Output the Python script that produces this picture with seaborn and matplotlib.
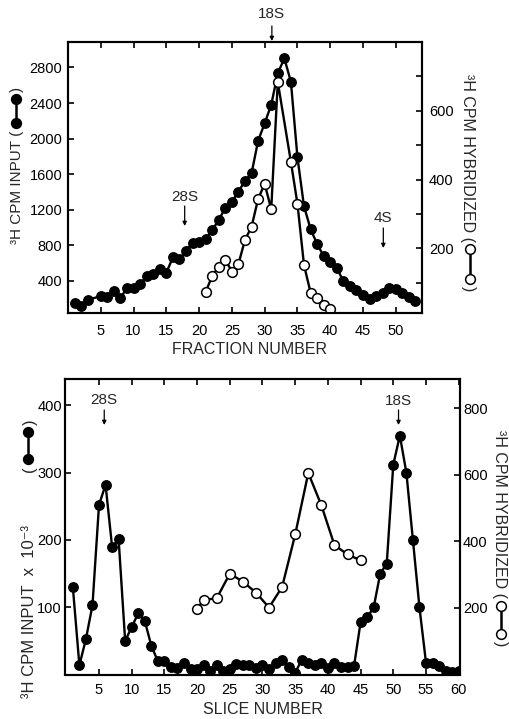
import matplotlib
matplotlib.use("Agg")
import matplotlib.pyplot as plt
import seaborn as sns
from matplotlib.lines import Line2D

# ---------------- data ----------------
top_input_fraction = [1, 2, 3, 5, 6, 7, 8, 9, 10, 11, 12, 13, 14, 15, 16, 17, 18, 19, 20,
                      21, 22, 23, 24, 25, 26, 27, 28, 29, 30, 31, 32, 33, 34, 35, 36, 37,
                      38, 39, 40, 41, 42, 43, 44, 45, 46, 47, 48, 49, 50, 51, 52, 53]
top_input_cpm = [156, 119, 187, 231, 223, 291, 212, 318, 318, 363, 456, 479, 538, 493, 666,
                 644, 740, 830, 838, 868, 973, 1085, 1224, 1291, 1403, 1527, 1610, 1976, 2172,
                 2380, 2734, 2902, 2640, 1790, 1240, 985, 816, 681, 617, 545, 400, 340, 295,
                 243, 194, 235, 265, 320, 310, 260, 220, 180]

top_hyb_fraction = [21, 22, 23, 24, 25, 26, 27, 28, 29, 30, 31, 32, 34, 35, 36, 37, 38, 39, 40]
top_hyb_cpm = [74, 120, 147, 167, 133, 155, 225, 263, 344, 388, 314, 684, 452, 330, 152,
               72, 55, 36, 23]

bottom_input_slice = list(range(1, 61))
bottom_input_cpm = [130, 14, 53, 103, 252, 282, 190, 201, 50, 71, 91, 80, 43, 20, 20, 12, 10,
                    17, 8, 8, 15, 6, 14, 5, 8, 16, 14, 15, 10, 14, 8, 18, 22, 12, 3, 22, 18,
                    15, 18, 10, 18, 11, 11, 13, 78, 85, 100, 150, 165, 312, 355, 300, 200,
                    100, 18, 17, 13, 5, 4, 5]

bottom_hyb_slice = [20, 21, 23, 25, 27, 29, 31, 33, 35, 37, 39, 41, 43, 45]
bottom_hyb_cpm = [195, 223, 228, 302, 278, 245, 200, 262, 420, 605, 508, 388, 360, 342]

top_left_ticks = [400, 800, 1200, 1600, 2000, 2400, 2800]
top_right_ticks = [100, 200, 300, 400, 500, 600, 700]
top_right_labels = ["", "200", "", "400", "", "600", ""]
top_x_ticks = [5, 10, 15, 20, 25, 30, 35, 40, 45, 50]
bottom_left_ticks = [100, 200, 300, 400]
bottom_right_ticks = [200, 400, 600, 800]
bottom_x_ticks = [5, 10, 15, 20, 25, 30, 35, 40, 45, 50, 55, 60]

# ---------------- style ----------------
sns.set_theme(style="white")
plt.rcParams["font.family"] = ["Liberation Sans", "DejaVu Sans"]
plt.rcParams["axes.linewidth"] = 1.5

W, H = 510, 719
fig = plt.figure(figsize=(W / 100, H / 100), dpi=100)
fig.patch.set_facecolor("white")


def rect(l, t, r, b):
    return [l / W, 1 - b / H, (r - l) / W, (b - t) / H]


ax1 = fig.add_axes(rect(68, 41.7, 422, 313.3))
ax1r = ax1.twinx()
ax2 = fig.add_axes(rect(65, 379, 460, 674.5))
ax2r = ax2.twinx()

filled = dict(color="black", lw=1.7, marker="o", markersize=6.8, markerfacecolor="black",
              markeredgecolor="black", markeredgewidth=1.0, sort=False)
opened = dict(color="black", lw=1.7, marker="o", markersize=7.0, markerfacecolor="white",
              markeredgecolor="black", markeredgewidth=1.1, sort=False)

sns.lineplot(x=top_input_fraction, y=top_input_cpm, ax=ax1, **filled)
sns.lineplot(x=top_hyb_fraction, y=top_hyb_cpm, ax=ax1r, **opened)
sns.lineplot(x=bottom_input_slice, y=bottom_input_cpm, ax=ax2, **filled)
sns.lineplot(x=bottom_hyb_slice, y=bottom_hyb_cpm, ax=ax2r, **opened)

# ---------------- axes ----------------
ax1.set_xlim(0, 54)
ax1.set_ylim(37, 3089)
ax1r.set_ylim(11.6, 801)
ax2.set_xlim(-0.2, 60.2)
ax2.set_ylim(0.3, 439)
ax2r.set_ylim(-1.5, 888)

ax1.set_xticks(top_x_ticks)
ax1.set_yticks(top_left_ticks)
ax1r.set_yticks(top_right_ticks)
ax1r.set_yticklabels(top_right_labels)
ax2.set_xticks(bottom_x_ticks)
ax2.set_yticks(bottom_left_ticks)
ax2r.set_yticks(bottom_right_ticks)

for a in (ax1, ax1r, ax2, ax2r):
    a.set_xlabel("")
    a.set_ylabel("")
    for s in a.spines.values():
        s.set_linewidth(1.5)
        s.set_color("black")

tk = dict(direction="in", length=4, width=1.2, colors="black", labelsize=10.5)
ax1.tick_params(axis="x", top=True, bottom=True, pad=8.0, **tk)
ax1.tick_params(axis="y", left=True, right=False, pad=4.0, **tk)
ax1r.tick_params(axis="y", right=True, left=False, pad=5.0, **tk)
ax2.tick_params(axis="x", top=True, bottom=True, pad=6.0, **tk)
ax2.tick_params(axis="y", left=True, right=False, pad=2.2, **tk)
ax2r.tick_params(axis="y", right=True, left=False, pad=2.2, **tk)

# ---------------- axis titles ----------------
fig.text(250 / W, 1 - 349 / H, "FRACTION NUMBER", ha="center", va="center", fontsize=11.5)
fig.text(263 / W, 1 - 710 / H, "SLICE NUMBER", ha="center", va="center", fontsize=11.5)


def ftext(x, y, s, **kw):
    return fig.text(x / W, 1 - y / H, s, **kw)


def symbol(x, y1, y2, face):
    fig.add_artist(Line2D([x / W, x / W], [1 - y1 / H, 1 - y2 / H], transform=fig.transFigure,
                          color="black", lw=1.8, marker="o", markersize=7.0,
                          markerfacecolor=face, markeredgecolor="black", markeredgewidth=1.1))


# top-left label
ftext(17, 131, "³H CPM INPUT (", rotation=90, rotation_mode="anchor", ha="right",
      va="center", fontsize=11)
symbol(16, 123, 99, "black")
ftext(17, 92, ")", rotation=90, rotation_mode="anchor", ha="left", va="center", fontsize=11)

# top-right label
ftext(468, 74, "³H CPM HYBRIDIZED (", rotation=270, rotation_mode="anchor", ha="left",
      va="center", fontsize=11.5)
symbol(470, 249, 279, "white")
ftext(468, 286, ")", rotation=270, rotation_mode="anchor", ha="left", va="center",
      fontsize=11.5)

# bottom-left label
ftext(30, 698, "³H CPM INPUT  x  10⁻³", rotation=90, rotation_mode="anchor", ha="left",
      va="center", fontsize=12)
ftext(30, 466, "(", rotation=90, rotation_mode="anchor", ha="right", va="center",
      fontsize=12)
symbol(28, 459, 432, "black")
ftext(30, 425, ")", rotation=90, rotation_mode="anchor", ha="left", va="center",
      fontsize=12)

# bottom-right label
ftext(500, 430, "³H CPM HYBRIDIZED (", rotation=270, rotation_mode="anchor", ha="left",
      va="center", fontsize=11.5)
symbol(501, 606, 634, "white")
ftext(500, 641, ")", rotation=270, rotation_mode="anchor", ha="left", va="center",
      fontsize=11.5)


# ---------------- peak markers ----------------
def marker_label(ax, xval, text_y, y0, y1, label):
    ax.annotate(label, xy=(xval, H - text_y), xycoords=("data", "figure pixels"),
                ha="center", va="center", fontsize=11, annotation_clip=False)
    ax.annotate("", xy=(xval, H - y1), xytext=(xval, H - y0),
                xycoords=("data", "figure pixels"), textcoords=("data", "figure pixels"),
                arrowprops=dict(arrowstyle="-|>", lw=0.9, color="black", mutation_scale=6,
                                shrinkA=0, shrinkB=0), annotation_clip=False)


marker_label(ax1, 31.1, 14, 26, 41, "18S")
marker_label(ax1, 17.8, 197, 206, 226, "28S")
marker_label(ax1, 48.1, 218, 228, 248, "4S")
marker_label(ax2, 5.8, 400, 410, 425, "28S")
marker_label(ax2, 50.8, 401, 410, 425, "18S")

fig.savefig("out.png", dpi=100, facecolor="white")
